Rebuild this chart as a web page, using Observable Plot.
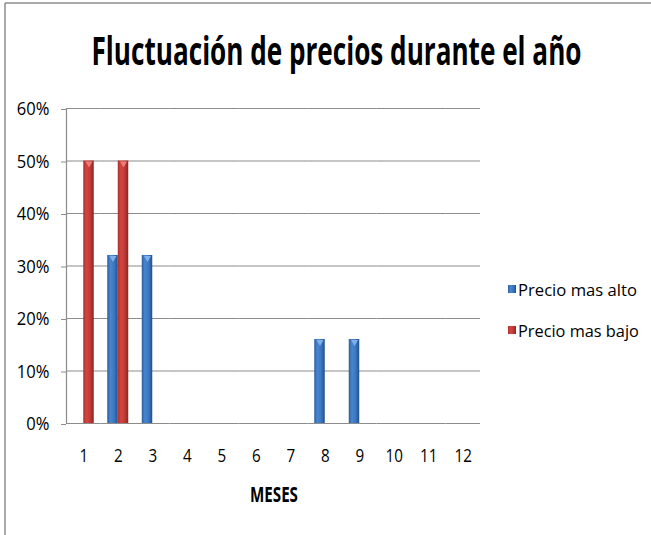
<!DOCTYPE html>
<html>
<head>
<meta charset="utf-8">
<script src="https://cdn.jsdelivr.net/npm/d3@7"></script>
<script src="https://cdn.jsdelivr.net/npm/@observablehq/plot@0.6"></script>
<style>
  html, body { margin: 0; padding: 0; background: #fff; }
  #page { position: relative; width: 651px; height: 535px; overflow: hidden; background: #fff; }
  #titlebox { height: 90px; }
  #overlay { position: absolute; left: 0; top: 0; pointer-events: none; }
  #chart svg { display: block; }
</style>
</head>
<body>
<div id="page">
  <div id="titlebox"></div>
  <div id="chart"></div>
  <svg id="overlay" width="651" height="535"></svg>
</div>
<script>
// ---- data ----
const titleText = "Fluctuación de precios durante el año";
const xAxisTitle = "MESES";
const months = [1, 2, 3, 4, 5, 6, 7, 8, 9, 10, 11, 12];
const seriesNames = ["Precio mas alto", "Precio mas bajo"];
const precioAlto = [0, 0.32, 0.32, 0, 0, 0, 0, 0.16, 0.16, 0, 0, 0];
const precioBajo = [0.50, 0.50, 0, 0, 0, 0, 0, 0, 0, 0, 0, 0];
const yTicks = [0, 0.1, 0.2, 0.3, 0.4, 0.5, 0.6];

const data = months.flatMap((m, i) => [
  {month: m, series: seriesNames[0], value: precioAlto[i]},
  {month: m, series: seriesNames[1], value: precioBajo[i]}
]);
const shown = data.filter(d => d.value > 0);

const FONT = "'Open Sans', 'Noto Sans', sans-serif";
const GRID = "#8c8c8c";

// overlay: frame, gradients, title, legend, axis title
const ov = d3.select("#overlay");
const defs = ov.append("defs");
function grad(id, stops) {
  const g = defs.append("linearGradient").attr("id", id)
    .attr("x1", "0%").attr("x2", "100%").attr("y1", "0%").attr("y2", "0%");
  stops.forEach(([o, c]) => g.append("stop").attr("offset", o).attr("stop-color", c));
}
grad("gBlue", [["0%", "#2b5e9f"], ["30%", "#4886d0"], ["65%", "#3b77c2"], ["100%", "#234f8a"]]);
grad("gRed", [["0%", "#a9322f"], ["30%", "#d4453f"], ["65%", "#c03a36"], ["100%", "#882725"]]);

ov.append("line").attr("x1", 5).attr("x2", 651).attr("y1", 3).attr("y2", 3)
  .attr("stroke", GRID).attr("stroke-width", 1.5);
ov.append("line").attr("x1", 5).attr("x2", 5).attr("y1", 3).attr("y2", 535)
  .attr("stroke", GRID).attr("stroke-width", 1.5);

// condensed text: scale a group horizontally so the box matches the target width
function condensedText(parent, str, x, y, size, weight, width, anchor) {
  const g = parent.append("g");
  const t = g.append("text").text(str).attr("x", 0).attr("y", 0)
    .attr("text-anchor", anchor)
    .attr("font-family", FONT).attr("font-weight", weight).attr("font-size", size)
    .attr("fill", "#000");
  const len = t.node().getComputedTextLength();
  const k = len > 0 ? width / len : 1;
  g.attr("transform", `translate(${x},${y}) scale(${k},1)`);
  return g;
}

condensedText(ov, titleText, 336.5, 65, 39, "bold", 490, "middle");
condensedText(ov, xAxisTitle, 274, 502, 21, "bold", 48, "middle");

const legendRows = [
  {name: seriesNames[0], fill: "url(#gBlue)", y: 296, w: 119},
  {name: seriesNames[1], fill: "url(#gRed)", y: 337, w: 121}
];
legendRows.forEach(r => {
  ov.append("rect").attr("x", 508).attr("y", r.y - 11).attr("width", 8).attr("height", 8)
    .attr("fill", r.fill);
  condensedText(ov, r.name, 518, r.y, 17, "normal", r.w, "start");
});

// chart
const chart = Plot.plot({
  width: 651,
  height: 445,
  marginLeft: 66,
  marginRight: 171,
  marginTop: 18,
  marginBottom: 112,
  style: {fontFamily: FONT, color: "#000", background: "transparent", overflow: "visible"},
  fx: {domain: months, padding: 0, round: false, label: null},
  x: {domain: seriesNames, paddingInner: 0, paddingOuter: 0.643, round: false, axis: null},
  y: {domain: [0, 0.6], label: null},
  color: {domain: seriesNames, range: ["url(#gBlue)", "url(#gRed)"]},
  marks: [
    Plot.ruleY(yTicks, {stroke: GRID, strokeWidth: 1.2}),
    Plot.frame({anchor: "left", facet: "super", stroke: GRID, strokeWidth: 1.2}),
    Plot.axisY({ticks: yTicks, tickFormat: d => Math.round(d * 100) + "%", tickSize: 5,
      tickPadding: 12, stroke: GRID, fontSize: 18, dy: 1, label: null}),
    Plot.axisFx({anchor: "bottom", tickSize: 0, tickPadding: 25, fontSize: 19, label: null}),
    Plot.barY(data, {fx: "month", x: "series", y: "value", fill: "series"}),
    Plot.dot(shown.filter(d => d.series === seriesNames[0]),
      {fx: "month", x: "series", y: "value", symbol: "triangle", rotate: 180, r: 2.6,
       dy: 2.5, fill: "#7fb0ea", stroke: "none"}),
    Plot.dot(shown.filter(d => d.series === seriesNames[1]),
      {fx: "month", x: "series", y: "value", symbol: "triangle", rotate: 180, r: 2.6,
       dy: 2.5, fill: "#ee7d77", stroke: "none"})
  ]
});
document.getElementById("chart").appendChild(chart);

// narrow the label glyphs to the reference's condensed look
function squish(sel, k) {
  chart.querySelectorAll(sel).forEach(t => {
    const len = t.getComputedTextLength();
    if (len > 0) {
      t.setAttribute("textLength", len * k);
      t.setAttribute("lengthAdjust", "spacingAndGlyphs");
    }
  });
}
squish('[aria-label="y-axis tick label"] text', 0.92);
squish('[aria-label="fx-axis tick label"] text', 0.8);
</script>
</body>
</html>
